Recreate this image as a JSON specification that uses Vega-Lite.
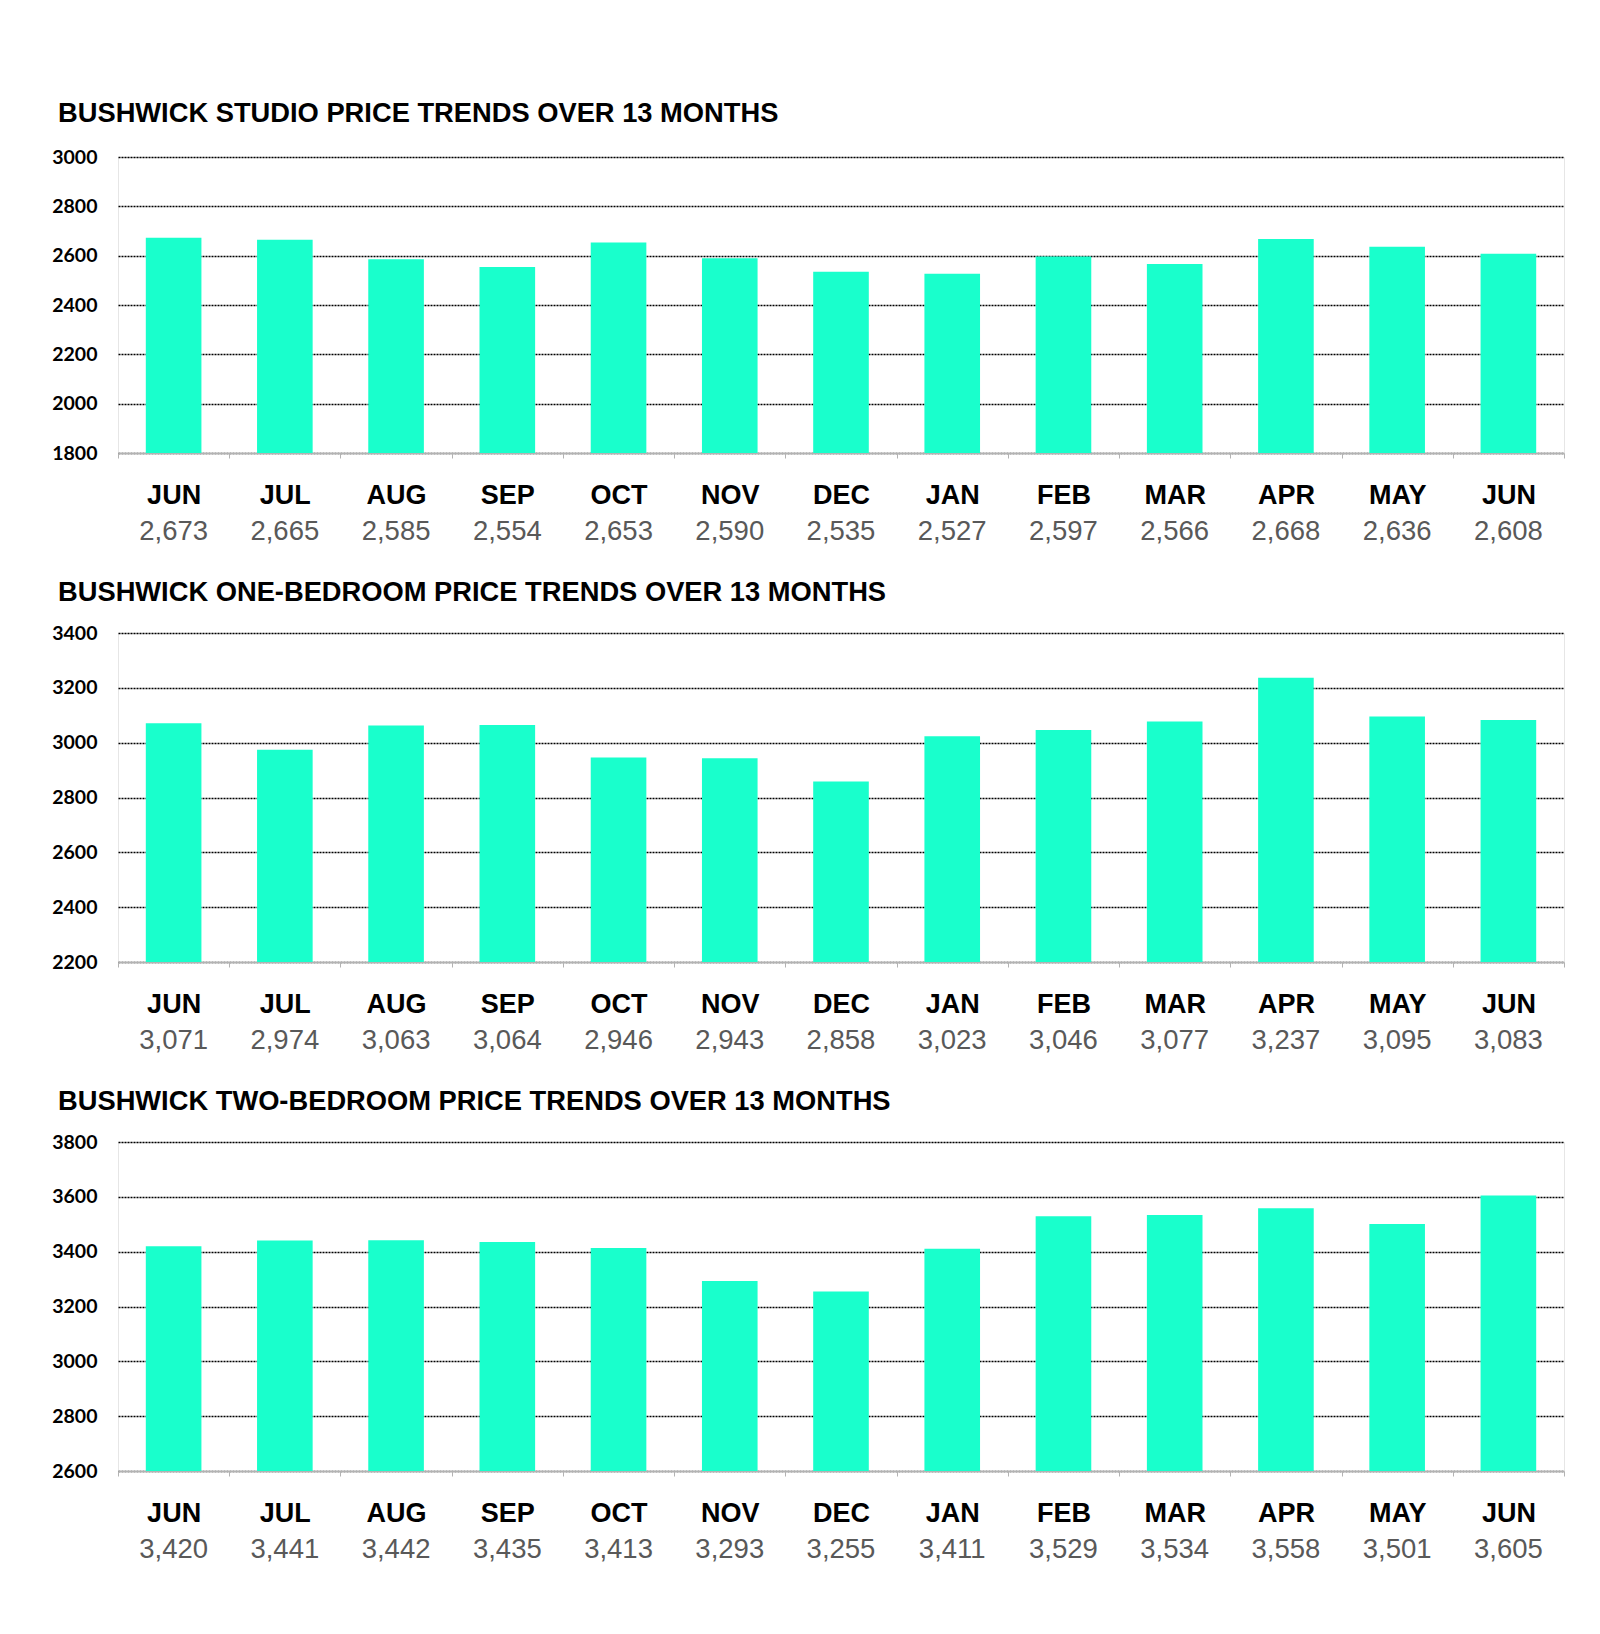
{
  "$schema": "https://vega.github.io/schema/vega-lite/v6.json",
  "background": "white",
  "padding": {"left": 51, "top": 99, "right": 30, "bottom": 10},
  "spacing": 33,
  "config": {
    "view": {"stroke": "#e6e6e6", "strokeWidth": 1},
    "title": {"font": "Liberation Sans", "fontSize": 27.3, "fontWeight": "bold", "color": "#000000", "anchor": "start", "frame": "group", "dx": -60, "baseline": "alphabetic"},
    "axisY": {"labelFont": "Lato", "labelFontWeight": "bold", "labelFontSize": 19.5, "labelColor": "#000000", "ticks": false, "domain": false, "labelPadding": 21, "gridColor": "#000000", "gridDash": [2, 1], "gridWidth": 1.5, "gridOpacity": 1, "title": null, "format": "d"}
  },
  "datasets": {
    "studio": [
      {"period": "01 JUN", "price": 2673}, {"period": "02 JUL", "price": 2665}, {"period": "03 AUG", "price": 2585},
      {"period": "04 SEP", "price": 2554}, {"period": "05 OCT", "price": 2653}, {"period": "06 NOV", "price": 2590},
      {"period": "07 DEC", "price": 2535}, {"period": "08 JAN", "price": 2527}, {"period": "09 FEB", "price": 2597},
      {"period": "10 MAR", "price": 2566}, {"period": "11 APR", "price": 2668}, {"period": "12 MAY", "price": 2636},
      {"period": "13 JUN", "price": 2608}
    ],
    "onebed": [
      {"period": "01 JUN", "price": 3071}, {"period": "02 JUL", "price": 2974}, {"period": "03 AUG", "price": 3063},
      {"period": "04 SEP", "price": 3064}, {"period": "05 OCT", "price": 2946}, {"period": "06 NOV", "price": 2943},
      {"period": "07 DEC", "price": 2858}, {"period": "08 JAN", "price": 3023}, {"period": "09 FEB", "price": 3046},
      {"period": "10 MAR", "price": 3077}, {"period": "11 APR", "price": 3237}, {"period": "12 MAY", "price": 3095},
      {"period": "13 JUN", "price": 3083}
    ],
    "twobed": [
      {"period": "01 JUN", "price": 3420}, {"period": "02 JUL", "price": 3441}, {"period": "03 AUG", "price": 3442},
      {"period": "04 SEP", "price": 3435}, {"period": "05 OCT", "price": 3413}, {"period": "06 NOV", "price": 3293},
      {"period": "07 DEC", "price": 3255}, {"period": "08 JAN", "price": 3411}, {"period": "09 FEB", "price": 3529},
      {"period": "10 MAR", "price": 3534}, {"period": "11 APR", "price": 3558}, {"period": "12 MAY", "price": 3501},
      {"period": "13 JUN", "price": 3605}
    ]
  },
  "vconcat": [
    {
      "title": {"text": "BUSHWICK STUDIO PRICE TRENDS OVER 13 MONTHS", "offset": 20},
      "width": 1446, "height": 296,
      "data": {"name": "studio"},
      "encoding": {"y": {"field": "price", "type": "quantitative", "scale": {"domain": [1800, 3000], "nice": false, "zero": false}, "axis": {"values": [1800, 2000, 2200, 2400, 2600, 2800, 3000]}}},
      "layer": [
        {"mark": {"type": "bar", "color": "#19FFCC", "clip": true, "width": {"band": 0.5}},
         "encoding": {"x": {"field": "period", "type": "nominal", "sort": null, "scale": {"paddingInner": 0, "paddingOuter": 0},
           "axis": {"orient": "bottom", "title": null, "labelExpr": "isString(datum.value) ? slice(datum.value, 3) : ''", "labelAngle": 0, "labelFont": "Liberation Sans", "labelFontWeight": "bold", "labelFontSize": 27, "labelColor": "#000000", "labelBaseline": "alphabetic", "labelPadding": 45, "tickBand": "extent", "tickSize": 5, "tickColor": "#b3b3b3", "domainColor": "#b3b3b3", "domainWidth": 1.5, "grid": false}}}},
        {"mark": {"type": "bar", "opacity": 0, "clip": true, "width": {"band": 0.5}},
         "encoding": {"x": {"field": "price", "type": "ordinal", "sort": null, "scale": {"paddingInner": 0, "paddingOuter": 0},
           "axis": {"orient": "bottom", "title": null, "labelExpr": "isNumber(datum.value) ? format(datum.value, ',') : ''", "labelAngle": 0, "labelFont": "Liberation Sans", "labelFontSize": 27.5, "labelColor": "#595959", "labelBaseline": "alphabetic", "labelPadding": 86, "ticks": false, "tickSize": 0, "domain": false, "grid": false}}}}
      ],
      "resolve": {"scale": {"x": "independent"}}
    },
    {
      "title": {"text": "BUSHWICK ONE-BEDROOM PRICE TRENDS OVER 13 MONTHS", "offset": 17},
      "width": 1446, "height": 329,
      "data": {"name": "onebed"},
      "encoding": {"y": {"field": "price", "type": "quantitative", "scale": {"domain": [2200, 3400], "nice": false, "zero": false}, "axis": {"values": [2200, 2400, 2600, 2800, 3000, 3200, 3400]}}},
      "layer": [
        {"mark": {"type": "bar", "color": "#19FFCC", "clip": true, "width": {"band": 0.5}},
         "encoding": {"x": {"field": "period", "type": "nominal", "sort": null, "scale": {"paddingInner": 0, "paddingOuter": 0},
           "axis": {"orient": "bottom", "title": null, "labelExpr": "isString(datum.value) ? slice(datum.value, 3) : ''", "labelAngle": 0, "labelFont": "Liberation Sans", "labelFontWeight": "bold", "labelFontSize": 27, "labelColor": "#000000", "labelBaseline": "alphabetic", "labelPadding": 45, "tickBand": "extent", "tickSize": 5, "tickColor": "#b3b3b3", "domainColor": "#b3b3b3", "domainWidth": 1.5, "grid": false}}}},
        {"mark": {"type": "bar", "opacity": 0, "clip": true, "width": {"band": 0.5}},
         "encoding": {"x": {"field": "price", "type": "ordinal", "sort": null, "scale": {"paddingInner": 0, "paddingOuter": 0},
           "axis": {"orient": "bottom", "title": null, "labelExpr": "isNumber(datum.value) ? format(datum.value, ',') : ''", "labelAngle": 0, "labelFont": "Liberation Sans", "labelFontSize": 27.5, "labelColor": "#595959", "labelBaseline": "alphabetic", "labelPadding": 86, "ticks": false, "tickSize": 0, "domain": false, "grid": false}}}}
      ],
      "resolve": {"scale": {"x": "independent"}}
    },
    {
      "title": {"text": "BUSHWICK TWO-BEDROOM PRICE TRENDS OVER 13 MONTHS", "offset": 16.5},
      "width": 1446, "height": 329,
      "data": {"name": "twobed"},
      "encoding": {"y": {"field": "price", "type": "quantitative", "scale": {"domain": [2600, 3800], "nice": false, "zero": false}, "axis": {"values": [2600, 2800, 3000, 3200, 3400, 3600, 3800]}}},
      "layer": [
        {"mark": {"type": "bar", "color": "#19FFCC", "clip": true, "width": {"band": 0.5}},
         "encoding": {"x": {"field": "period", "type": "nominal", "sort": null, "scale": {"paddingInner": 0, "paddingOuter": 0},
           "axis": {"orient": "bottom", "title": null, "labelExpr": "isString(datum.value) ? slice(datum.value, 3) : ''", "labelAngle": 0, "labelFont": "Liberation Sans", "labelFontWeight": "bold", "labelFontSize": 27, "labelColor": "#000000", "labelBaseline": "alphabetic", "labelPadding": 45, "tickBand": "extent", "tickSize": 5, "tickColor": "#b3b3b3", "domainColor": "#b3b3b3", "domainWidth": 1.5, "grid": false}}}},
        {"mark": {"type": "bar", "opacity": 0, "clip": true, "width": {"band": 0.5}},
         "encoding": {"x": {"field": "price", "type": "ordinal", "sort": null, "scale": {"paddingInner": 0, "paddingOuter": 0},
           "axis": {"orient": "bottom", "title": null, "labelExpr": "isNumber(datum.value) ? format(datum.value, ',') : ''", "labelAngle": 0, "labelFont": "Liberation Sans", "labelFontSize": 27.5, "labelColor": "#595959", "labelBaseline": "alphabetic", "labelPadding": 86, "ticks": false, "tickSize": 0, "domain": false, "grid": false}}}}
      ],
      "resolve": {"scale": {"x": "independent"}}
    }
  ]
}
